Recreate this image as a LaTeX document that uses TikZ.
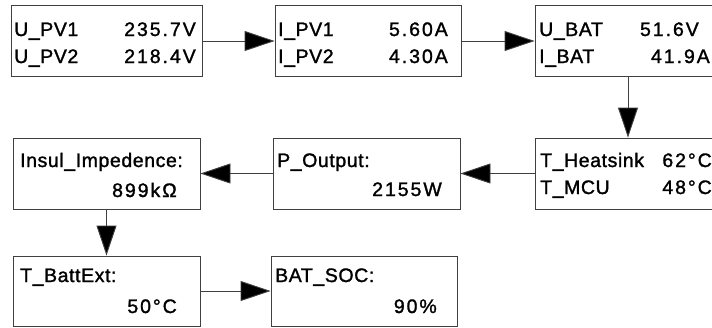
\documentclass[tikz,border=0pt]{standalone}
\usepackage{fontspec}
\setmainfont[LetterSpace=3,FakeBold=1.4]{Liberation Sans}
\newfontfamily\numfont[LetterSpace=10,FakeBold=1.4]{Liberation Sans}
\usetikzlibrary{arrows.meta}
\tikzset{
  box/.style={draw=black!75, line width=0.9pt, rectangle, minimum width=#1, minimum height=71pt, inner sep=0pt},
  box/.default=187pt,
  lt/.style={anchor=base west, inner sep=0pt, font=\fontsize{19.5}{22}\selectfont},
  rt/.style={anchor=base east, inner sep=0pt, font=\numfont\fontsize{19.5}{22}\selectfont},
  conn/.style={draw=black!75, line width=0.9pt, -{Triangle[length=30pt,width=20pt,fill=black]}},
}
\begin{document}
\begin{tikzpicture}[x=1pt,y=-1pt]
\useasboundingbox (0,0) rectangle (712,327);
% boxes
\node[box=191pt] (b1) at (106.5,41) {};
\node[box=186pt] (b2) at (368,41) {};
\node[box=186pt] (b3) at (628,41) {};
\node[box=186pt] (b4) at (628,173.5) {};
\node[box=187pt] (b5) at (366.5,173.5) {};
\node[box=187pt] (b6) at (106.5,173.5) {};
\node[box=187pt, minimum height=70pt] (b7) at (106.5,291) {};
\node[box=186pt, minimum height=70pt] (b8) at (364,291) {};
% texts
\node[lt] (t1a) at (14,36) {U\_PV1};
\node[rt] (t1b) at (196,36) {235.7V};
\node[lt] (t1c) at (14,63) {U\_PV2};
\node[rt] (t1d) at (196,63) {218.4V};
\node[lt] (t2a) at (278,36) {I\_PV1};
\node[rt] (t2b) at (448,36) {5.60A};
\node[lt] (t2c) at (278,63) {I\_PV2};
\node[rt] (t2d) at (448,63) {4.30A};
\node[lt] (t3a) at (539,36) {U\_BAT};
\node[rt] (t3b) at (699,36) {51.6V};
\node[lt] (t3c) at (539,63) {I\_BAT};
\node[rt] (t3d) at (710,63) {41.9A};
\node[lt] (t4a) at (540,167) {T\_Heatsink};
\node[rt] (t4b) at (712,167) {62°C};
\node[lt] (t4c) at (540,194) {T\_MCU};
\node[rt] (t4d) at (712,194) {48°C};
\node[lt] (t5a) at (277,167) {P\_Output:};
\node[rt] (t5b) at (442,196) {2155W};
\node[lt] (t6a) at (20,167) {Insul\_Impedence:};
\node[rt] (t6b) at (177,197) {899kΩ};
\node[lt] (t7a) at (20,282) {T\_BattExt:};
\node[rt] (t7b) at (177,313) {50°C};
\node[lt] (t8a) at (275,282) {BAT\_SOC:};
\node[rt] (t8b) at (437,313) {90\%};
% connectors
\draw[conn] (b1.east) -- (b2.west);
\draw[conn] (b2.east) -- (b3.west);
\draw[conn] (b3.south) -- (b4.north);
\draw[conn] (b4.west) -- (b5.east);
\draw[conn] (b5.west) -- (b6.east);
\draw[conn] (b6.south) -- (b7.north);
\draw[conn] (b7.east) -- (b8.west);
\end{tikzpicture}
\end{document}
